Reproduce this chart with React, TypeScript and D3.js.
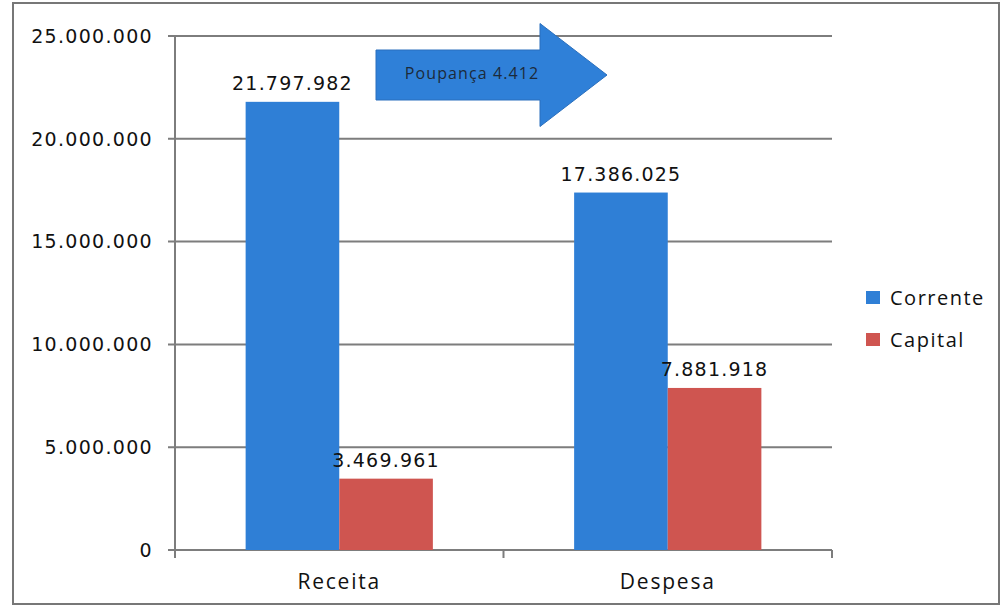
import * as d3 from "d3";
import { useEffect, useRef } from "react";

// dados
const categorias = ["Receita", "Despesa"];
const series = ["Corrente", "Capital"];
const corrente = [21797982, 17386025];
const capital = [3469961, 7881918];
const ticksY = [0, 5000000, 10000000, 15000000, 20000000, 25000000];
const setaTexto = "Poupança 4.412";

const cores = ["#2f7fd6", "#cf5550"];

const W = 1004;
const H = 609;

const App = () => {
  const ref = useRef<SVGSVGElement>(null);

  useEffect(() => {
    const svg = d3.select(ref.current);
    svg.selectAll("*").remove();

    const margin = { top: 36, left: 175, right: 172, bottom: 59 };
    const innerW = W - margin.left - margin.right;
    const innerH = H - margin.top - margin.bottom;

    const loc = d3.formatLocale({ decimal: ",", thousands: ".", grouping: [3], currency: ["", ""] });
    const fmt = loc.format(",d");

    const x0 = d3.scaleBand().domain(categorias).range([0, innerW]).paddingInner(0.43).paddingOuter(0.215);
    const x1 = d3.scaleBand().domain(series).range([0, x0.bandwidth()]);
    const y = d3.scaleLinear().domain([0, 25000000]).range([innerH, 0]);

    // moldura
    svg.append("rect")
      .attr("x", 13).attr("y", 3).attr("width", 986).attr("height", 601)
      .attr("fill", "white").attr("stroke", "#777").attr("stroke-width", 2);

    const g = svg.append("g").attr("transform", `translate(${margin.left},${margin.top})`);

    // grelha
    g.selectAll(".grid").data(ticksY).enter().append("line")
      .attr("x1", -7).attr("x2", innerW)
      .attr("y1", d => y(d)).attr("y2", d => y(d))
      .attr("stroke", "#7d7d7d").attr("stroke-width", 2);

    // eixo y
    g.append("line").attr("x1", 0).attr("x2", 0).attr("y1", 0).attr("y2", innerH)
      .attr("stroke", "#7d7d7d").attr("stroke-width", 2);

    g.selectAll(".ylab").data(ticksY).enter().append("text")
      .attr("x", -22).attr("y", d => y(d)).attr("dy", "0.36em")
      .attr("text-anchor", "end")
      .attr("font-family", "DejaVu Sans").attr("font-size", 19).attr("letter-spacing", 1.3)
      .attr("fill", "#111")
      .text(d => fmt(d));

    // ticks categoria
    const catTicks = [0, innerW / 2, innerW];
    g.selectAll(".xt").data(catTicks).enter().append("line")
      .attr("x1", d => d).attr("x2", d => d).attr("y1", innerH).attr("y2", innerH + 8)
      .attr("stroke", "#7d7d7d").attr("stroke-width", 2);

    g.selectAll(".xlab").data(categorias).enter().append("text")
      .attr("x", d => (x0(d) as number) + x0.bandwidth() / 2)
      .attr("y", innerH + 39)
      .attr("text-anchor", "middle")
      .attr("font-family", "Open Sans").attr("font-size", 21).attr("letter-spacing", 1.8)
      .attr("fill", "#111")
      .text(d => d);

    // barras
    const dados = categorias.map((c, i) => ({ cat: c, vals: [corrente[i], capital[i]] }));
    const grupos = g.selectAll(".grp").data(dados).enter().append("g")
      .attr("transform", d => `translate(${x0(d.cat)},0)`);

    grupos.selectAll("rect").data(d => d.vals.map((v, j) => ({ s: series[j], v, j }))).enter().append("rect")
      .attr("x", d => x1(d.s) as number)
      .attr("y", d => y(d.v))
      .attr("width", x1.bandwidth())
      .attr("height", d => innerH - y(d.v))
      .attr("fill", d => cores[d.j]);

    grupos.selectAll(".val").data(d => d.vals.map((v, j) => ({ s: series[j], v, j }))).enter().append("text")
      .attr("x", d => (x1(d.s) as number) + x1.bandwidth() / 2)
      .attr("y", d => y(d.v) - 12)
      .attr("text-anchor", "middle")
      .attr("font-family", "DejaVu Sans").attr("font-size", 19).attr("letter-spacing", 1.2)
      .attr("fill", "#111")
      .text(d => fmt(d.v));

    // seta poupança
    const ax = 376, ay = 50, bodyW = 164, bodyH = 50, headW = 67, headH = 103;
    const pts: [number, number][] = [
      [ax, ay], [ax + bodyW, ay], [ax + bodyW, ay + bodyH / 2 - headH / 2],
      [ax + bodyW + headW, ay + bodyH / 2], [ax + bodyW, ay + bodyH / 2 + headH / 2],
      [ax + bodyW, ay + bodyH], [ax, ay + bodyH],
    ];
    svg.append("polygon")
      .attr("points", pts.map(p => p.join(",")).join(" "))
      .attr("fill", "#2f80d8").attr("stroke", "#2a6fbd").attr("stroke-width", 1);
    svg.append("text")
      .attr("x", 472).attr("y", ay + bodyH / 2 - 2).attr("dy", "0.35em")
      .attr("text-anchor", "middle")
      .attr("font-family", "Open Sans").attr("font-size", 16).attr("letter-spacing", 1.1)
      .attr("fill", "#1c2a3a")
      .text(setaTexto);

    // legenda
    const leg = svg.append("g").attr("transform", "translate(866,291)");
    series.forEach((s, i) => {
      leg.append("rect").attr("x", 0).attr("y", i * 42).attr("width", 14).attr("height", 13).attr("fill", cores[i]);
      leg.append("text").attr("x", 24).attr("y", i * 42 + 7).attr("dy", "0.36em")
        .attr("font-family", "Open Sans").attr("font-size", 20).attr("letter-spacing", 1.5)
        .attr("fill", "#111").text(s);
    });
  }, []);

  return <svg ref={ref} width={W} height={H} style={{ position: "absolute", left: 0, top: 0 }} />;
};

export default App;
